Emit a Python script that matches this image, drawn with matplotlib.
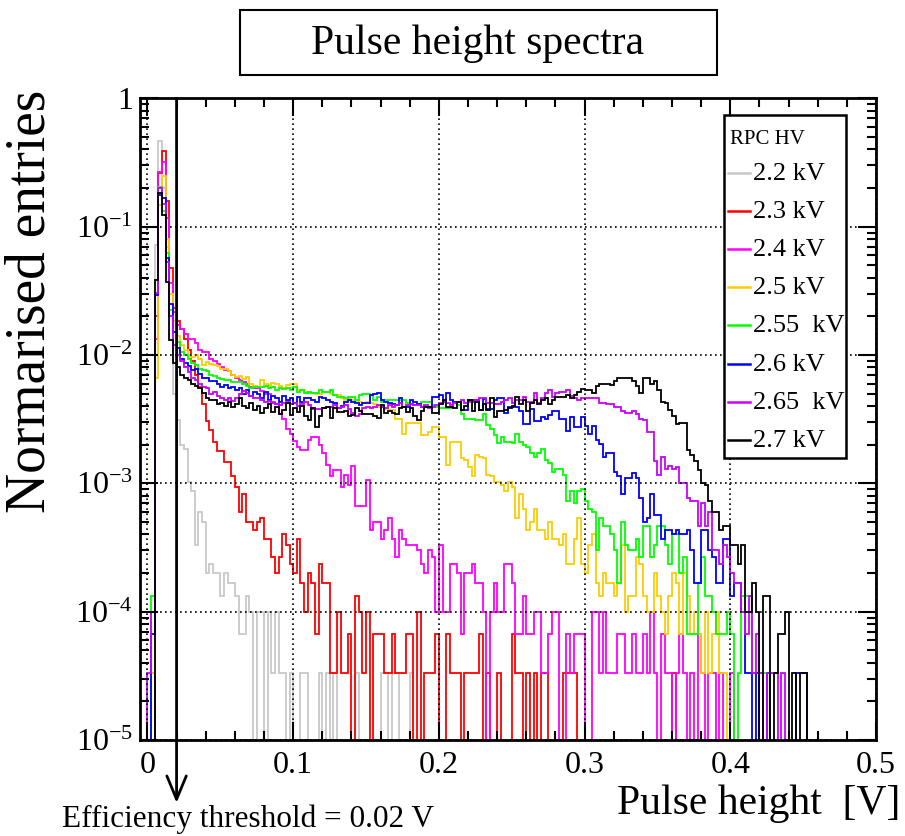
import numpy as np
import matplotlib.pyplot as plt
from matplotlib.patches import Rectangle
from matplotlib.lines import Line2D
from matplotlib.ticker import MultipleLocator, LogLocator, NullFormatter

plt.rcParams['font.family'] = ['Liberation Serif', 'DejaVu Serif']
plt.rcParams['mathtext.fontset'] = 'custom'
plt.rcParams['mathtext.rm'] = 'Liberation Serif'
plt.rcParams['mathtext.it'] = 'Liberation Serif:italic'
plt.rcParams['mathtext.bf'] = 'Liberation Serif:bold'

# histogram binning (V) and normalisation
bin_width = 0.0025
n_entries = 30000
threshold = 0.02

hv_labels = ['2.2 kV', '2.3 kV', '2.4 kV', '2.5 kV', '2.55  kV', '2.6 kV', '2.65  kV', '2.7 kV']

# entries per bin, bins start at 0 V
counts_2p2 = [
    0, 0, 2160, 14000, 6000, 2100, 600, 150, 93, 60,
    56, 31, 26, 10, 18, 15, 6, 7, 6, 6,
    4, 6, 5, 5, 4, 2, 2, 4, 3, 0,
    3, 3, 0, 3, 1, 3, 1, 1, 0, 1,
    0, 0, 1, 1, 0, 0, 0, 1, 0, 1,
    0, 1, 0, 0, 0, 0, 0, 1, 0, 0,
    0, 0, 0, 0, 1, 1, 0, 1, 1, 0,
    0, 0, 1]

counts_2p3 = [
    0, 0, 600, 7900, 11700, 4800, 1440, 700, 550, 480,
    400, 330, 270, 210, 170, 125, 92, 78, 63, 54,
    54, 44, 44, 34, 28, 18, 25, 15, 15, 13,
    15, 16, 11, 11, 8, 6, 8, 12, 10, 7,
    6, 11, 5, 3, 6, 5, 2, 7, 5, 5,
    1, 1, 3, 1, 1, 2, 0, 4, 3, 1,
    3, 0, 2, 2, 2, 1, 1, 2, 1, 1,
    1, 2, 2, 0, 3, 0, 1, 1, 1, 2,
    0, 0, 2, 1, 1, 1, 0, 1, 1, 1,
    1, 2, 0, 1, 0, 0, 1, 0, 0, 0,
    2, 1, 1, 0, 1, 0, 1, 0, 1, 1,
    0, 0, 0, 0, 1, 1, 1, 1, 0, 0,
    0, 0, 0, 0, 0, 0, 0, 0, 0, 0,
    0, 0, 0, 0, 0, 0, 0, 0, 0, 0,
    0, 0, 0, 0, 1]

counts_2p4 = [
    0, 1, 400, 8000, 9600, 3500, 1100, 650, 515, 480,
    440, 400, 400, 375, 330, 318, 318, 280, 270, 255,
    244, 230, 225, 210, 197, 190, 185, 180, 170, 165,
    165, 158, 149, 149, 130, 124, 104, 96, 80, 73,
    64, 58, 55, 55, 65, 69, 69, 60, 52, 42,
    34, 38, 38, 28, 35, 29, 41, 20, 20, 20,
    32, 13, 15, 15, 11, 13, 16, 11, 8, 13,
    11, 10, 10, 10, 9, 7, 6, 9, 8, 3,
    10, 3, 3, 7, 7, 6, 2, 6, 6, 7,
    5, 5, 3, 0, 3, 5, 3, 3, 7, 7,
    5, 2, 2, 4, 2, 2, 3, 3, 1, 1,
    2, 3, 3, 0, 0, 2, 1, 2, 2, 2,
    0, 0, 3, 3, 1, 3, 1, 1, 1, 2,
    2, 1, 1, 2, 1, 1, 2, 1, 3, 1,
    0, 2, 1, 1, 0, 1, 2, 1, 0, 1,
    0, 2, 1, 0, 1, 1, 0, 1, 0, 0,
    1]

counts_2p5 = [
    0, 1, 200, 4400, 7500, 2400, 900, 550, 420, 360,
    330, 300, 290, 300, 280, 250, 265, 255, 250, 245,
    233, 233, 225, 210, 203, 205, 195, 203, 177, 172,
    170, 190, 178, 175, 182, 178, 171, 165, 175, 180,
    180, 160, 159, 155, 151, 151, 148, 150, 155, 155,
    150, 147, 147, 140, 134, 138, 134, 132, 130, 127,
    130, 127, 124, 119, 119, 114, 112, 112, 96, 96,
    73, 88, 88, 88, 88, 71, 71, 76, 82, 82,
    69, 69, 42, 63, 63, 63, 47, 46, 40, 34,
    50, 48, 47, 35, 34, 31, 31, 29, 26, 31,
    28, 16, 25, 19, 13, 15, 19, 13, 13, 11,
    15, 11, 11, 10, 12, 7, 7, 11, 16, 7,
    6, 10, 12, 5, 4, 6, 5, 5, 4, 5,
    10, 3, 4, 4, 8, 7, 4, 3, 3, 6,
    4, 3, 2, 4, 6, 5, 2, 6, 4, 2,
    3, 2, 1, 3, 1, 2, 3, 1, 1]

counts_2p55 = [
    0, 4, 1160, 6100, 4000, 1860, 670, 450, 376, 318,
    300, 280, 260, 250, 235, 230, 225, 210, 205, 200,
    195, 190, 190, 185, 185, 185, 180, 172, 165, 170,
    170, 168, 172, 165, 168, 160, 165, 162, 165, 160,
    168, 155, 159, 151, 155, 151, 151, 159, 155, 155,
    159, 146, 142, 142, 138, 142, 142, 134, 146, 150,
    148, 146, 134, 142, 130, 134, 134, 134, 134, 134,
    134, 127, 125, 122, 125, 130, 130, 130, 122, 119,
    116, 116, 116, 116, 130, 122, 104, 95, 95, 95,
    93, 93, 104, 86, 80, 71, 62, 69, 63, 63,
    62, 73, 63, 60, 58, 52, 48, 52, 56, 46,
    43, 37, 39, 39, 35, 22, 26, 21, 26, 27,
    22, 19, 18, 9, 16, 14, 14, 12, 9, 5,
    15, 10, 9, 9, 11, 8, 14, 14, 8, 10,
    14, 14, 10, 7, 12, 12, 6, 8, 2, 2,
    2, 5, 8, 4, 4, 3, 2, 2, 2, 3,
    2, 0, 1, 4, 4, 4, 1, 1, 1, 1]

counts_2p6 = [
    0, 2, 880, 5300, 5000, 1700, 750, 450, 340, 280,
    260, 245, 230, 235, 215, 200, 200, 187, 187, 180,
    170, 175, 165, 170, 160, 165, 150, 160, 145, 155,
    150, 140, 155, 135, 145, 140, 130, 145, 135, 140,
    128, 142, 130, 138, 138, 135, 130, 142, 140, 134,
    130, 128, 116, 120, 130, 134, 130, 126, 122, 127,
    127, 146, 148, 151, 134, 130, 127, 124, 122, 138,
    119, 119, 134, 130, 125, 119, 119, 119, 142, 142,
    146, 130, 151, 134, 130, 130, 112, 112, 134, 134,
    134, 112, 136, 113, 113, 134, 140, 140, 106, 118,
    118, 118, 110, 87, 87, 114, 92, 92, 99, 95,
    102, 110, 110, 95, 95, 77, 99, 82, 82, 99,
    84, 73, 84, 65, 61, 48, 52, 52, 37, 34,
    25, 33, 33, 36, 33, 23, 15, 16, 25, 17,
    17, 11, 13, 13, 12, 13, 12, 12, 13, 9,
    5, 5, 13, 13, 9, 8, 5, 5, 11, 11,
    4, 5, 5, 3, 1, 1, 0, 1, 0, 0,
    1, 0, 0, 0, 0, 0, 0, 0, 1, 1,
    1]

counts_2p65 = [
    1, 3, 920, 6000, 4500, 1600, 600, 360, 300, 270,
    240, 220, 200, 190, 180, 170, 165, 150, 155, 145,
    140, 135, 138, 132, 140, 150, 158, 152, 145, 140,
    138, 135, 130, 132, 128, 125, 122, 128, 130, 125,
    127, 120, 125, 130, 122, 113, 113, 113, 116, 119,
    119, 122, 116, 119, 122, 113, 106, 101, 104, 116,
    119, 116, 119, 122, 119, 116, 122, 119, 122, 127,
    119, 122, 125, 122, 122, 119, 122, 116, 119, 122,
    127, 130, 127, 122, 127, 130, 134, 127, 130, 130,
    134, 138, 138, 127, 127, 124, 124, 130, 134, 138,
    127, 134, 134, 142, 130, 130, 151, 127, 138, 151,
    159, 142, 151, 155, 155, 159, 145, 138, 134, 140,
    140, 138, 138, 138, 127, 127, 124, 124, 118, 118,
    110, 106, 106, 110, 104, 95, 93, 75, 75, 45,
    35, 48, 39, 41, 39, 40, 30, 30, 23, 22,
    22, 14, 21, 14, 18, 9, 9, 7, 10, 8,
    6, 5, 5, 3, 2, 4, 1, 2, 1, 0,
    1, 1, 1, 0, 1]

counts_2p7 = [
    0, 0, 1150, 5500, 3700, 1120, 395, 260, 240, 210,
    200, 190, 180, 172, 165, 151, 140, 134, 134, 125,
    128, 120, 130, 118, 125, 138, 120, 115, 128, 112,
    120, 106, 115, 125, 108, 118, 104, 112, 126, 103,
    115, 108, 120, 100, 94, 115, 83, 100, 115, 119,
    97, 115, 108, 108, 110, 100, 103, 115, 110, 104,
    104, 104, 100, 97, 122, 106, 110, 106, 104, 115,
    119, 108, 115, 100, 94, 110, 119, 119, 106, 106,
    125, 134, 119, 119, 115, 130, 112, 120, 134, 109,
    130, 112, 124, 112, 138, 99, 109, 109, 112, 117,
    120, 142, 124, 134, 109, 127, 134, 124, 134, 138,
    124, 134, 142, 142, 142, 146, 138, 146, 155, 162,
    159, 159, 151, 171, 180, 180, 180, 175, 189, 197,
    197, 197, 197, 189, 171, 151, 197, 197, 180, 189,
    159, 130, 128, 112, 100, 87, 89, 89, 55, 50,
    45, 38, 30, 29, 22, 18, 18, 13, 14, 14,
    10, 10, 7, 10, 3, 3, 5, 3, 0, 4,
    4, 0, 1, 2, 2, 3, 0, 1, 0, 1,
    1]

all_counts = [counts_2p2, counts_2p3, counts_2p4, counts_2p5,
              counts_2p55, counts_2p6, counts_2p65, counts_2p7]
colors = ['#c8c8c8', '#ff0000', '#ff00ff', '#ffcc00',
          '#00ff00', '#0000ff', '#cc00ff', '#000000']

W, H = 905, 836


def fig_xy(x, y):
    # pixel position -> figure fraction
    return x / W, 1 - y / H


def draw_spectra():
    fig = plt.figure(figsize=(W / 100, H / 100), dpi=100)
    ax = fig.add_axes([140 / W, 1 - 740 / H, 736 / W, 641.6 / H])

    for cnt, col in zip(all_counts, colors):
        c = np.array(cnt, dtype=float)
        # empty bins drop below the axis like in ROOT
        vals = np.where(c > 0, c / n_entries, 1e-9)
        edges = np.arange(len(c) + 1) * bin_width
        ax.stairs(vals, edges, baseline=1e-9, color=col, lw=1.3)

    ax.set_yscale('log')
    ax.set_ylim(1e-5, 1)
    ax.set_xlim(-0.0051, 0.5)

    ax.set_xticks(np.arange(0, 0.51, 0.1))
    ax.set_xticklabels(['0', '0.1', '0.2', '0.3', '0.4', '0.5'])
    ax.xaxis.set_minor_locator(MultipleLocator(0.02))
    ax.set_yticks([1e-5, 1e-4, 1e-3, 1e-2, 1e-1, 1])
    ax.set_yticklabels([r'$10^{-5}$', r'$10^{-4}$', r'$10^{-3}$',
                        r'$10^{-2}$', r'$10^{-1}$', '1'])
    ax.yaxis.set_minor_locator(LogLocator(base=10, subs=np.arange(2, 10)))
    ax.yaxis.set_minor_formatter(NullFormatter())
    ax.tick_params(which='both', direction='in', top=True, right=True, width=1.5)
    ax.tick_params(which='major', length=13)
    ax.tick_params(which='minor', length=6.5)
    ax.tick_params(axis='x', which='major', labelsize=23, pad=8)
    ax.tick_params(axis='y', which='major', labelsize=23, pad=5)
    ax.grid(True, which='major', ls=(0, (1, 2)), color='k', lw=1.2)
    for s in ax.spines.values():
        s.set_linewidth(2)

    ax.set_ylabel('Normarised entries', fontsize=40, loc='top')
    ax.yaxis.set_label_coords(-0.113, 1.013)
    ax.set_xlabel('Pulse height  [V]', fontsize=30, loc='right')
    ax.xaxis.set_label_coords(1.033, -0.07)

    # efficiency threshold marker
    ax.annotate('', xy=(threshold, -0.098), xycoords=('data', 'axes fraction'),
                xytext=(threshold, 1.0), textcoords=('data', 'axes fraction'),
                arrowprops=dict(arrowstyle='->,head_length=1.2,head_width=0.5',
                                lw=2, color='k', shrinkA=0, shrinkB=0,
                                mutation_scale=14),
                annotation_clip=False)
    fig.text(*fig_xy(62, 819), 'Efficiency threshold = 0.02 V',
             ha='left', va='center', fontsize=22.5)

    # title box
    fig.add_artist(Rectangle(fig_xy(240, 75), 477 / W, 65 / H, transform=fig.transFigure,
                             fill=False, ec='k', lw=1.5))
    fig.text(*fig_xy(478, 44), 'Pulse height spectra', ha='center', va='center', fontsize=30)

    # legend
    fig.add_artist(Rectangle(fig_xy(724, 458), 122 / W, 343 / H, transform=fig.transFigure,
                             fc='white', ec='k', lw=1.8, zorder=5))
    fig.text(*fig_xy(730, 139), 'RPC HV', ha='left', va='center', fontsize=15, zorder=6)
    for i, (lab, col) in enumerate(zip(hv_labels, colors)):
        y = 172.7 + i * 38.2
        x0, y0 = fig_xy(728, y)
        x1, _ = fig_xy(750, y)
        fig.add_artist(Line2D([x0, x1], [y0, y0], transform=fig.transFigure,
                              color=col, lw=1.8, zorder=6))
        fig.text(*fig_xy(753, y + 1), lab, ha='left', va='center', fontsize=19, zorder=6)

    fig.savefig('out.png', dpi=100)


if __name__ == '__main__':
    draw_spectra()
